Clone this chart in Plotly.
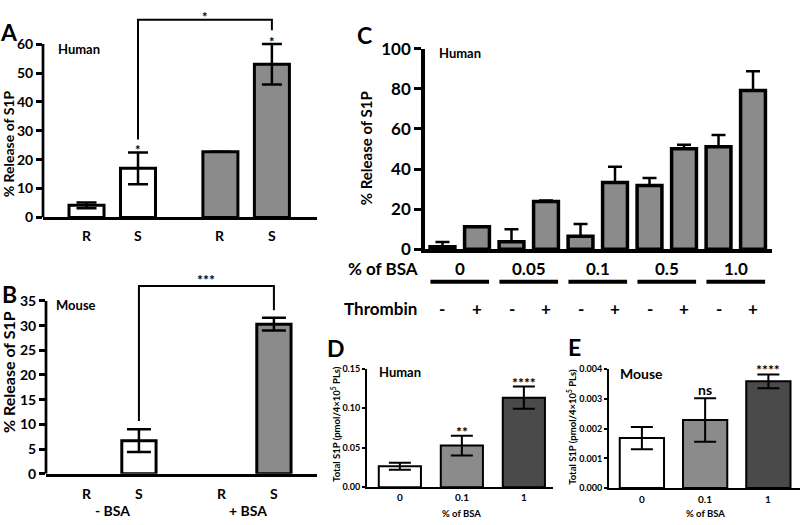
import plotly.graph_objects as go

W, H = 800, 525
FONT = "Lato"
BLK = "black"
GRAY = "#8b8b8b"
DARK = "#4a4a4a"

# ---------------- data ----------------
# Panel A (human, % release of S1P)
a_pos = [0, 1, 2.6, 3.6]
a_ticks = ["R", "S", "R", "S"]
a_vals = [4.2, 17.0, 22.7, 53.0]
a_err = [1.0, 5.5, 0.0, 7.0]
a_fill = ["white", "white", GRAY, GRAY]
a_sig = ["", "*", "", "*"]
a_bracket_x = [1, 1, 3.6, 3.6]
a_bracket_y = [27.0, 68.4, 68.4, 64.8]
a_bracket_sig = "*"

# Panel B (mouse)
b_pos = [0, 1, 2.6, 3.6]
b_ticks = ["R", "S", "R", "S"]
b_vals = [None, 6.7, None, 30.3]
b_err = [None, 2.3, None, 1.3]
b_fill = ["white", "white", GRAY, GRAY]
b_groups = ["- BSA", "+ BSA"]
b_bracket_x = [1, 1, 3.6, 3.6]
b_bracket_y = [10.7, 38.0, 38.0, 33.1]
b_bracket_sig = "***"

# Panel C (human, BSA x thrombin)
c_pos = list(range(10))
c_vals = [1.3, 11.3, 3.8, 23.9, 6.6, 33.3, 31.8, 50.2, 51.2, 79.2]
c_err = [2.4, 0.0, 6.2, 0.4, 6.1, 7.9, 3.8, 1.9, 5.8, 9.6]
c_groups = ["0", "0.05", "0.1", "0.5", "1.0"]
c_thrombin = ["-", "+", "-", "+", "-", "+", "-", "+", "-", "+"]

# Panel D (human, total S1P)
d_pos = [0, 1, 2]
d_ticks = ["0", "0.1", "1"]
d_vals = [0.0265, 0.0526, 0.1132]
d_err = [0.0045, 0.0125, 0.0140]
d_sig = ["", "**", "****"]
d_fill = ["white", GRAY, DARK]

# Panel E (mouse, total S1P)
e_pos = [0, 1, 2]
e_ticks = ["0", "0.1", "1"]
e_vals = [0.00168, 0.00229, 0.00359]
e_err = [0.00037, 0.00073, 0.00023]
e_sig = ["", "ns", "****"]
e_fill = ["white", GRAY, DARK]

YT_AB = "% Release of S1P"
YT_DE = "Total S1P (pmol/4\u00d710<sup>5</sup> PLs)"

# ---------------- figure ----------------
fig = go.Figure()


def bar(x, y, err, fill, xa, ya, width, lw, cap, eth, minus=None):
    ey = dict(type="data", array=err, color=BLK, thickness=eth, width=cap, visible=True)
    if minus is not None:
        ey.update(symmetric=False, arrayminus=minus)
    return go.Bar(x=x, y=y, width=width, xaxis=xa, yaxis=ya, showlegend=False,
                  marker=dict(color=fill, line=dict(color=BLK, width=lw)),
                  error_y=ey, hoverinfo="skip")


fig.add_trace(bar(a_pos, a_vals, a_err, a_fill, "x", "y", 0.68, 3, 10, 2.5))
fig.add_trace(bar(b_pos, b_vals, b_err, b_fill, "x2", "y2", 0.66, 3, 12, 2.5))
fig.add_trace(bar(c_pos, c_vals, c_err, [GRAY] * 10, "x3", "y3", 0.72, 3.5, 7, 2.5,
                  minus=[0] * 10))
fig.add_trace(bar(d_pos, d_vals, d_err, d_fill, "x4", "y4", 0.68, 2, 11, 2))
fig.add_trace(bar(e_pos, e_vals, e_err, e_fill, "x5", "y5", 0.7, 2, 11, 2))

# significance brackets
for bx, by, xa, ya in [(a_bracket_x, a_bracket_y, "x", "y"),
                       (b_bracket_x, b_bracket_y, "x2", "y2")]:
    fig.add_trace(go.Scatter(x=bx, y=by, mode="lines", xaxis=xa, yaxis=ya,
                             line=dict(color=BLK, width=2), showlegend=False,
                             hoverinfo="skip"))

# ranges
A_XR = [-0.845, 4.476]
A_YR = [0, 71.47]
B_XR = [-0.79, 4.43]
B_YR = [0, 42.78]
C_XR = [-0.507, 9.55]
C_YR = [0, 100]
D_XR = [-0.53, 2.47]
D_YR = [0, 0.15]
E_XR = [-0.52, 2.5]
E_YR = [0, 0.004]


def xax(domain, rng, anchor, lw):
    return dict(domain=domain, range=rng, anchor=anchor, showline=True, linewidth=lw,
                linecolor=BLK, ticks="", showticklabels=False, showgrid=False,
                zeroline=False, fixedrange=True)


def yax(domain, rng, anchor, tv, tt, size, tl, tw, showline, lw):
    return dict(domain=domain, range=rng, anchor=anchor, showline=showline, linewidth=lw,
                linecolor=BLK, ticks="outside", ticklen=tl, tickwidth=tw, tickcolor=BLK,
                tickvals=tv, ticktext=tt, showgrid=False, zeroline=False, fixedrange=True,
                tickfont=dict(family=FONT, size=size, color=BLK, weight="bold"))


a_tv = [0, 10, 20, 30, 40, 50, 60]
b_tv = [0, 5, 10, 15, 20, 25, 30, 35]
c_tv = [0, 20, 40, 60, 80, 100]
d_tv = [0, 0.05, 0.10, 0.15]
d_tt = ["0.00", "0.05", "0.10", "0.15"]
e_tv = [0, 0.001, 0.002, 0.003, 0.004]
e_tt = ["0.000", "0.001", "0.002", "0.003", "0.004"]

fig.update_layout(
    width=W, height=H, margin=dict(l=0, r=0, t=0, b=0),
    paper_bgcolor="white", plot_bgcolor="rgba(0,0,0,0)", showlegend=False,
    font=dict(family=FONT, color=BLK),
    xaxis=xax([43 / W, 317 / W], A_XR, "y", 3),
    yaxis=yax([1 - 215 / H, 1.0], A_YR, "x", a_tv, [str(v) for v in a_tv], 14, 6, 2.5, False, 0),
    xaxis2=xax([46 / W, 317 / W], B_XR, "y2", 3),
    yaxis2=yax([1 - 482 / H, 1 - 262 / H], B_YR, "x2", b_tv, [str(v) for v in b_tv], 14, 6, 2.5, False, 0),
    xaxis3=xax([425 / W, 772 / W], C_XR, "y3", 3.5),
    yaxis3=yax([1 - 248.3 / H, 1 - 39.3 / H], C_YR, "x3", c_tv, [str(v) for v in c_tv], 17, 7, 3, True, 3.5),
    xaxis4=xax([367 / W, 553 / W], D_XR, "y4", 2),
    yaxis4=yax([1 - 496 / H, 1 - 372.5 / H], D_YR, "x4", d_tv, d_tt, 9, 3, 1.5, True, 2),
    xaxis5=xax([609 / W, 1.0], E_XR, "y5", 2),
    yaxis5=yax([1 - 497 / H, 1 - 373 / H], E_YR, "x5", e_tv, e_tt, 9, 3, 1.5, True, 2),
)

shapes = []
# y-axis lines of A and B stop at the top tick
shapes.append(dict(type="line", xref="x domain", yref="y", x0=0, x1=0, y0=0, y1=60,
                   line=dict(color=BLK, width=2.7)))
shapes.append(dict(type="line", xref="x2 domain", yref="y2", x0=0, x1=0, y0=0, y1=35,
                   line=dict(color=BLK, width=2.7)))
# group underlines in C
for g in range(len(c_groups)):
    shapes.append(dict(type="line", xref="x3", yref="y3 domain",
                       x0=2 * g + 0.5 - 0.85, x1=2 * g + 0.5 + 0.85, y0=-0.161, y1=-0.161,
                       line=dict(color=BLK, width=4)))
fig.update_layout(shapes=shapes)

ann = []


def A(text, x, y, xref, yref, size, **kw):
    d = dict(text=text, x=x, y=y, xref=xref, yref=yref, showarrow=False,
             xanchor="center", yanchor="middle",
             font=dict(family=FONT, size=size, color=BLK, weight="bold"))
    d.update(kw)
    ann.append(d)


# panel letters
for t, px, py in [("A", 9, 22), ("B", 9, 295), ("C", 364, 25), ("D", 336, 351), ("E", 574, 350)]:
    A(t, px / W, 1 - py / H, "paper", "paper", 23)

# ---- A ----
for p, t in zip(a_pos, a_ticks):
    A(t, p, 0, "x", "y", 14, yshift=-18)
for p, v, e, s in zip(a_pos, a_vals, a_err, a_sig):
    if s:
        A(s, p, v + e, "x", "y", 13, yanchor="bottom", yshift=-8)
A(a_bracket_sig, (a_bracket_x[0] + a_bracket_x[2]) / 2, a_bracket_y[1], "x", "y", 13,
  yanchor="bottom", yshift=-7)
A("Human", -0.15, 58.2, "x", "y", 13)
A(YT_AB, A_XR[0], 25.3, "x", "y", 14, textangle=-90, xshift=-35)

# ---- B ----
for p, t in zip(b_pos, b_ticks):
    A(t, p, 0, "x2", "y2", 14, yshift=-20)
A(b_groups[0], (b_pos[0] + b_pos[1]) / 2, 0, "x2", "y2", 14, yshift=-37)
A(b_groups[1], (b_pos[2] + b_pos[3]) / 2, 0, "x2", "y2", 14, yshift=-37)
A(b_bracket_sig, (b_bracket_x[0] + b_bracket_x[2]) / 2, b_bracket_y[1], "x2", "y2", 14,
  yanchor="bottom", yshift=-4)
A("Mouse", -0.22, 34.2, "x2", "y2", 13)
A(YT_AB, B_XR[0], 20.6, "x2", "y2", 16, textangle=-90, xshift=-38)

# ---- C ----
for g, lab in enumerate(c_groups):
    A(lab, 2 * g + 0.5, 0, "x3", "y3", 17, yshift=-19)
for p, t in zip(c_pos, c_thrombin):
    A(t, p, 0, "x3", "y3", 17, yshift=-59)
A("% of BSA", C_XR[0], 0, "x3", "y3", 17, xshift=-42, yshift=-19)
A("Thrombin", C_XR[0], 0, "x3", "y3", 17, xshift=-45, yshift=-59)
A("Human", 0.5, 98, "x3", "y3", 13)
A(YT_AB, C_XR[0], 50.4, "x3", "y3", 15, textangle=-90, xshift=-59)

# ---- D ----
for p, t in zip(d_pos, d_ticks):
    A(t, p, 0, "x4", "y4", 10, yshift=-10)
for p, v, e, s in zip(d_pos, d_vals, d_err, d_sig):
    if s:
        A(s, p, v + e, "x4", "y4", 14, yanchor="bottom", yshift=-6)
A("% of BSA", 1, 0, "x4", "y4", 9.5, yshift=-26)
A("Human", 0, 0.1458, "x4", "y4", 13)
A(YT_DE, D_XR[0], 0.080, "x4", "y4", 9.5, textangle=-90, xshift=-31)

# ---- E ----
for p, t in zip(e_pos, e_ticks):
    A(t, p, 0, "x5", "y5", 10, yshift=-11)
for p, v, e, s in zip(e_pos, e_vals, e_err, e_sig):
    if s:
        A(s, p, v + e, "x5", "y5", 14, yanchor="bottom", yshift=(-2 if s == "ns" else -6))
A("% of BSA", 1, 0, "x5", "y5", 9.5, yshift=-25)
A("Mouse", 0, 0.00384, "x5", "y5", 14)
A(YT_DE, E_XR[0], 0.00206, "x5", "y5", 9.5, textangle=-90, xshift=-37)

fig.update_layout(annotations=ann)
fig.write_html("out.html", config={"displayModeBar": False},
               post_script="document.body.style.margin='0px';")
